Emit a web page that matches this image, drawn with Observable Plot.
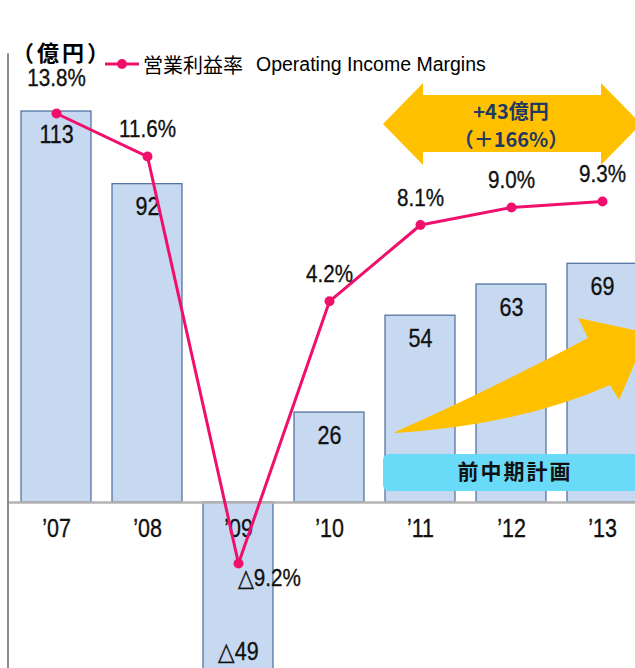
<!DOCTYPE html>
<html><head><meta charset="utf-8">
<script src="https://cdn.jsdelivr.net/npm/d3@7"></script>
<script src="https://cdn.jsdelivr.net/npm/@observablehq/plot@0.6"></script>
<style>
body{margin:0;background:#fff;}
#wrap{position:relative;width:635px;height:668px;overflow:hidden;}
#wrap svg.plot{position:absolute;left:0;top:0;}
#unit{position:absolute;left:12px;top:37px;font:bold 22px "Noto Sans CJK JP";line-height:28px;letter-spacing:3px;z-index:2;}
#legend{position:absolute;left:104px;top:51px;height:26px;display:flex;align-items:center;font:20px "Noto Sans CJK JP";z-index:2;white-space:nowrap;}
#legend .en{font-family:"Liberation Sans",Arial,sans-serif;font-size:19.5px;margin-left:13px;}
</style></head>
<body><div id="wrap">
<div id="unit">（億円）</div>
<div id="legend"><svg width="36" height="20"><line x1="1" y1="10" x2="35" y2="10" stroke="#f0106b" stroke-width="3"/><circle cx="18" cy="10" r="5" fill="#f0106b"/></svg><span style="margin-left:3px">営業利益率</span><span class="en">Operating Income Margins</span></div>
</div>
<script>
const years = ["’07","’08","’09","’10","’11","’12","’13"];
const income = [113, 92, -49, 26, 54, 63, 69];
const margins = [13.8, 11.6, -9.2, 4.2, 8.1, 9.0, 9.3];

// secondary axis for margins mapped onto the income axis
const marginToY = d3.scaleLinear().domain([0, 10]).range([34.39, 34.39 + 56.55]);
const data = years.map((y, i) => ({year: y, income: income[i], margin: margins[i], my: marginToY(margins[i])}));
const fmt = v => v < 0 ? "△" + (-v) : String(v);
const fmtPct = v => (v < 0 ? "△" + (-v).toFixed(1) : v.toFixed(1)) + "%";

const PINK = "#f0106b";
const YELLOW = "#ffc000";
const NUMFONT = '"Liberation Sans",Arial,sans-serif';
const TXT = {fill: "#111", stroke: "#111", strokeWidth: 0.35};

function axisLine(index, {x, y}, values, dims) {
  const g = d3.create("svg:g");
  g.append("line").attr("x1", dims.marginLeft).attr("x2", dims.marginLeft)
    .attr("y1", y(130) + 1).attr("y2", dims.height)
    .attr("stroke", "#8c8c8c").attr("stroke-width", 2);
  return g.node();
}

function annotations(index, {x, y}, values, dims) {
  const bx = x(years[4]);
  const by = y(0);
  const g = d3.create("svg:g");
  const P = (dx, dy) => `${bx + dx},${by + dy}`;
  // double arrow
  g.append("path").attr("fill", YELLOW).attr("d",
    `M${P(-2,-378)} L${P(38,-419)} L${P(38,-407)} L${P(216,-407)} L${P(216,-419)} L${P(256,-378)} L${P(216,-337)} L${P(216,-350)} L${P(38,-350)} L${P(38,-337)} Z`);
  g.append("text").attr("x", bx + 126).attr("y", by - 390).attr("text-anchor", "middle").attr("dy", "0.35em")
    .attr("font-family", '"Noto Sans CJK JP"').attr("font-weight", "bold").attr("font-size", 20).attr("fill", "#1f3864").text("+43億円");
  g.append("text").attr("x", bx + 126).attr("y", by - 362).attr("text-anchor", "middle").attr("dy", "0.35em")
    .attr("font-family", '"Noto Sans CJK JP"').attr("font-weight", "bold").attr("font-size", 20).attr("fill", "#1f3864").text("（＋166%）");
  // big curved arrow
  g.append("path").attr("fill", YELLOW).attr("d",
    `M${P(10,-70)} Q${P(105,-112)} ${P(203,-164)} L${P(193,-184)} L${P(263,-169)} L${P(234,-102)} L${P(225,-117)} Q${P(135,-77)} ${P(10,-69)} Z`);
  // plan box
  g.append("rect").attr("x", bx - 2).attr("y", by - 48).attr("width", 270).attr("height", 37).attr("rx", 6)
    .attr("fill", "#69daf8");
  g.append("text").attr("x", bx + 130).attr("y", by - 30).attr("text-anchor", "middle").attr("dy", "0.35em")
    .attr("font-family", '"Noto Sans CJK JP"').attr("font-weight", "bold").attr("font-size", 21).attr("letter-spacing", 2).attr("fill", "#111").text("前中期計画");
  return g.node();
}

const chart = Plot.plot({
  width: 635, height: 668,
  marginLeft: 8, marginRight: 0, marginTop: 0, marginBottom: 0,
  x: {type: "band", domain: years, range: [8, 649], paddingInner: 0.235, paddingOuter: 0.12, axis: null},
  y: {domain: [-50, 130], range: [675, 52.2], axis: null},
  style: {fontFamily: NUMFONT, color: "#111", background: "transparent", overflow: "visible"},
  marks: [
    Plot.barY(data, {x: "year", y: "income", fill: "#c6d9f1", stroke: "#4a6b9a", strokeWidth: 1.2}),
    Plot.ruleY([0], {stroke: "#b3b3b3", strokeWidth: 2.5}),
    axisLine,
    Plot.text(data, {x: "year", y: 0, text: "year", dy: 26, fontSize: 25, ...TXT}),
    Plot.text(data.filter(d => d.income >= 0), {x: "year", y: "income", text: d => fmt(d.income), dy: 23, fontSize: 25, ...TXT}),
    Plot.text(data.filter(d => d.income < 0), {x: "year", y: "income", text: d => fmt(d.income), dy: -20, fontSize: 25, ...TXT}),
    annotations,
    Plot.line(data, {x: "year", y: "my", stroke: PINK, strokeWidth: 3}),
    Plot.dot(data, {x: "year", y: "my", r: 5, fill: PINK}),
    Plot.text(data.filter((d, i) => i === 0), {x: "year", y: "my", text: d => fmtPct(d.margin), dy: -35, fontSize: 24, ...TXT}),
    Plot.text(data.filter((d, i) => i > 0 && d.margin >= 0), {x: "year", y: "my", text: d => fmtPct(d.margin), dy: -27, fontSize: 24, ...TXT}),
    Plot.text(data.filter(d => d.margin < 0), {x: "year", y: "my", text: d => fmtPct(d.margin), dx: 31, dy: 15, fontSize: 24, ...TXT})
  ]
});
// condense the numeric labels horizontally, around each label's own anchor
chart.querySelectorAll('g[aria-label="text"] text').forEach(t => {
  const tr = t.getAttribute("transform");
  if (tr) {
    t.setAttribute("transform", tr + " scale(0.86,1)");
  } else {
    const x = +t.getAttribute("x") || 0;
    t.setAttribute("transform", `translate(${x},0) scale(0.86,1) translate(${-x},0)`);
  }
});
document.getElementById("wrap").appendChild(chart);
</script>
</body></html>
